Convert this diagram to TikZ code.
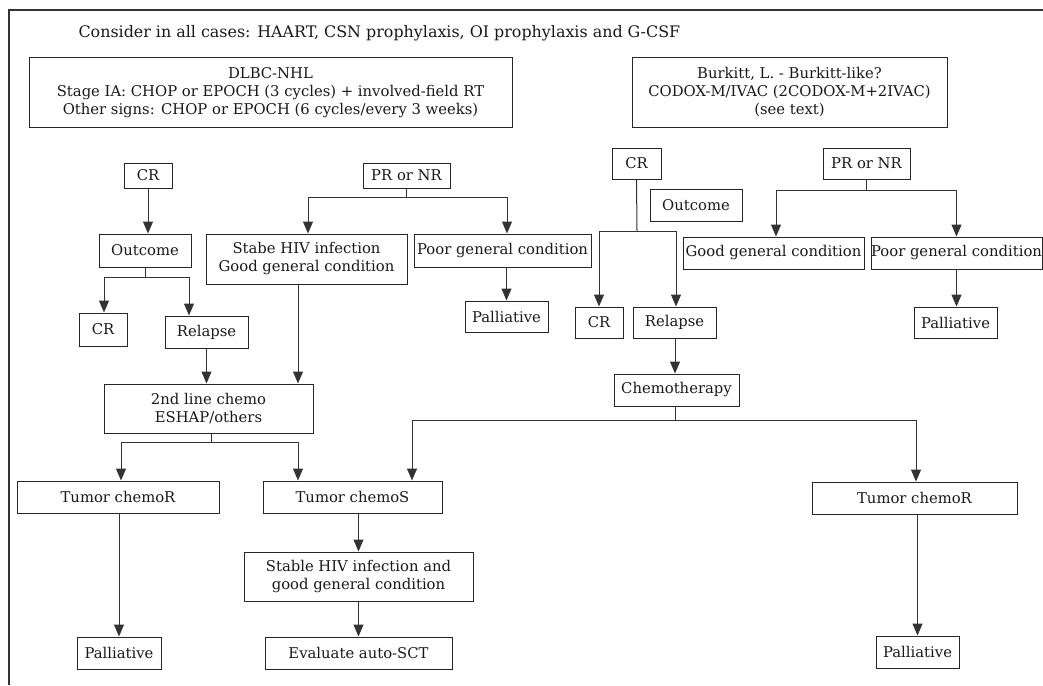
\documentclass[tikz,border=0pt]{standalone}
\usepackage{fontspec}
\setmainfont{DejaVu Serif}
\usetikzlibrary{arrows.meta}
\begin{document}
\begin{tikzpicture}[x=1pt,y=-1pt,
  font=\fontsize{14.8}{18}\selectfont,
  bx/.style 2 args={draw=black!85, line width=1pt, minimum width=#1, minimum height=#2,
    inner sep=0pt, align=center, text=black!90},
  ln/.style={draw=black!80, line width=1pt},
  arr/.style={ln, -{Triangle[width=10pt,length=12pt]}}]
\useasboundingbox (0,0) rectangle (1043,685);
% frame
\coordinate (fb) at (9,685);
\coordinate (ft) at (9,10);
\coordinate (fr) at (1043,10);
\draw[draw=black!80, line width=1.4pt] (fb) -- (ft) -- (fr);
% title
\node[anchor=west, text=black!90, font=\fontsize{15.9}{18}\selectfont] (title) at (75,33) {Consider in all cases: HAART, CSN prophylaxis, OI prophylaxis and G-CSF};
% top boxes
\node[bx={483}{69}] (dlbc) at (270.5,92.5) {DLBC-NHL\\Stage IA: CHOP or EPOCH (3 cycles) + involved-field RT\\Other signs: CHOP or EPOCH (6 cycles/every 3 weeks)};
\node[bx={315}{69}] (burk) at (789.5,92.5) {Burkitt, L. - Burkitt-like?\\CODOX-M/IVAC (2CODOX-M+2IVAC)\\(see text)};
% left branch
\node[bx={48}{25}] (crL) at (148,175.5) {CR};
\node[bx={87}{25}] (prL) at (406.5,175.5) {PR or NR};
\node[bx={92}{33}] (outL) at (145,250.5) {Outcome};
\node[bx={201}{50}] (stabe) at (306.5,259) {Stabe HIV infection\\Good general condition};
\node[bx={177}{33}] (poorL) at (502.5,250.5) {Poor general condition};
\node[bx={48}{33}] (crL2) at (103,329.5) {CR};
\node[bx={83}{32}] (relL) at (206.5,332) {Relapse};
\node[bx={83}{31}] (palL1) at (506.5,316.5) {Palliative};
\node[bx={209}{49}] (second) at (208.5,408.5) {2nd line chemo\\ESHAP/others};
\node[bx={202}{32}] (chemoRL) at (118,497) {Tumor chemoR};
\node[bx={179}{32}] (chemoS) at (352.5,497) {Tumor chemoS};
\node[bx={229}{49}] (stable2) at (358.5,576.5) {Stable HIV infection and\\good general condition};
\node[bx={187}{32}] (eval) at (358.5,653) {Evaluate auto-SCT};
\node[bx={84}{32}] (palL2) at (119,653) {Palliative};
% right branch
\node[bx={49}{31}] (crR) at (636.5,163.5) {CR};
\node[bx={87}{31}] (prR) at (866.5,163.5) {PR or NR};
\node[bx={92}{32}] (outR) at (696,205) {Outcome};
\node[bx={181}{32}] (goodR) at (773.5,253) {Good general condition};
\node[bx={171}{32}] (poorR) at (956.5,253) {Poor general condition};
\node[bx={48}{31}] (crR2) at (599,322.5) {CR};
\node[bx={83}{31}] (relR) at (674.5,322.5) {Relapse};
\node[bx={83}{31}] (palR1) at (955.5,322.5) {Palliative};
\node[bx={125}{32}] (chemo) at (676.5,390) {Chemotherapy};
\node[bx={205}{32}] (chemoRR) at (914.5,498) {Tumor chemoR};
\node[bx={83}{32}] (palR2) at (917.5,652) {Palliative};
% junctions
\coordinate (jPL) at (406.5,197);
\coordinate (jOL) at (145,277);
\coordinate (j2L) at (211,442);
\coordinate (jCR) at (637,231);
\coordinate (jPR) at (866.5,190);
\coordinate (jCh) at (675,420);
% connectors left
\draw[arr] (crL.south) -- (crL.south |- outL.north);
\draw[ln] (prL.south) -- (jPL);
\draw[arr] (jPL) -| ([xshift=1.5pt]stabe.north);
\draw[arr] (jPL) -| ([xshift=4.5pt]poorL.north);
\draw[ln] (outL.south) -- (jOL);
\draw[arr] (jOL) -| ([xshift=1pt]crL2.north);
\draw[arr] (jOL) -| ([xshift=-17.5pt]relL.north);
\draw[arr] ([xshift=-8.5pt]stabe.south) -- ([xshift=-8.5pt]stabe.south |- second.north);
\draw[arr] (relL.south) -- (relL.south |- second.north);
\draw[arr] (poorL.south -| palL1.north) -- (palL1.north);
\draw[ln] ([xshift=2.5pt]second.south) -- (j2L);
\draw[arr] (j2L) -| ([xshift=3pt]chemoRL.north);
\draw[arr] (j2L) -| ([xshift=-54.5pt]chemoS.north);
\draw[arr] (chemoRL.south -| palL2.north) -- (palL2.north);
\draw[arr] (stable2.north |- chemoS.south) -- (stable2.north);
\draw[arr] (stable2.south) -- (eval.north);
% connectors right
\draw[ln] (crR.south) -- (jCR);
\draw[arr] (jCR) -| (crR2.north);
\draw[arr] (jCR) -| ([xshift=1.5pt]relR.north);
\draw[ln] (prR.south) -- (jPR);
\draw[arr] (jPR) -| ([xshift=2.5pt]goodR.north);
\draw[arr] (jPR) -| (poorR.north);
\draw[arr] (poorR.south) -- (poorR.south |- palR1.north);
\draw[arr] (relR.south -| jCh) -- (jCh |- chemo.north);
\draw[ln] (chemo.south -| jCh) -- (jCh);
\draw[arr] (jCh) -| ([xshift=59.5pt]chemoS.north);
\draw[arr] (jCh) -| ([xshift=1.5pt]chemoRR.north);
\draw[arr] (chemoRR.south -| palR2.north) -- (palR2.north);
\end{tikzpicture}
\end{document}
